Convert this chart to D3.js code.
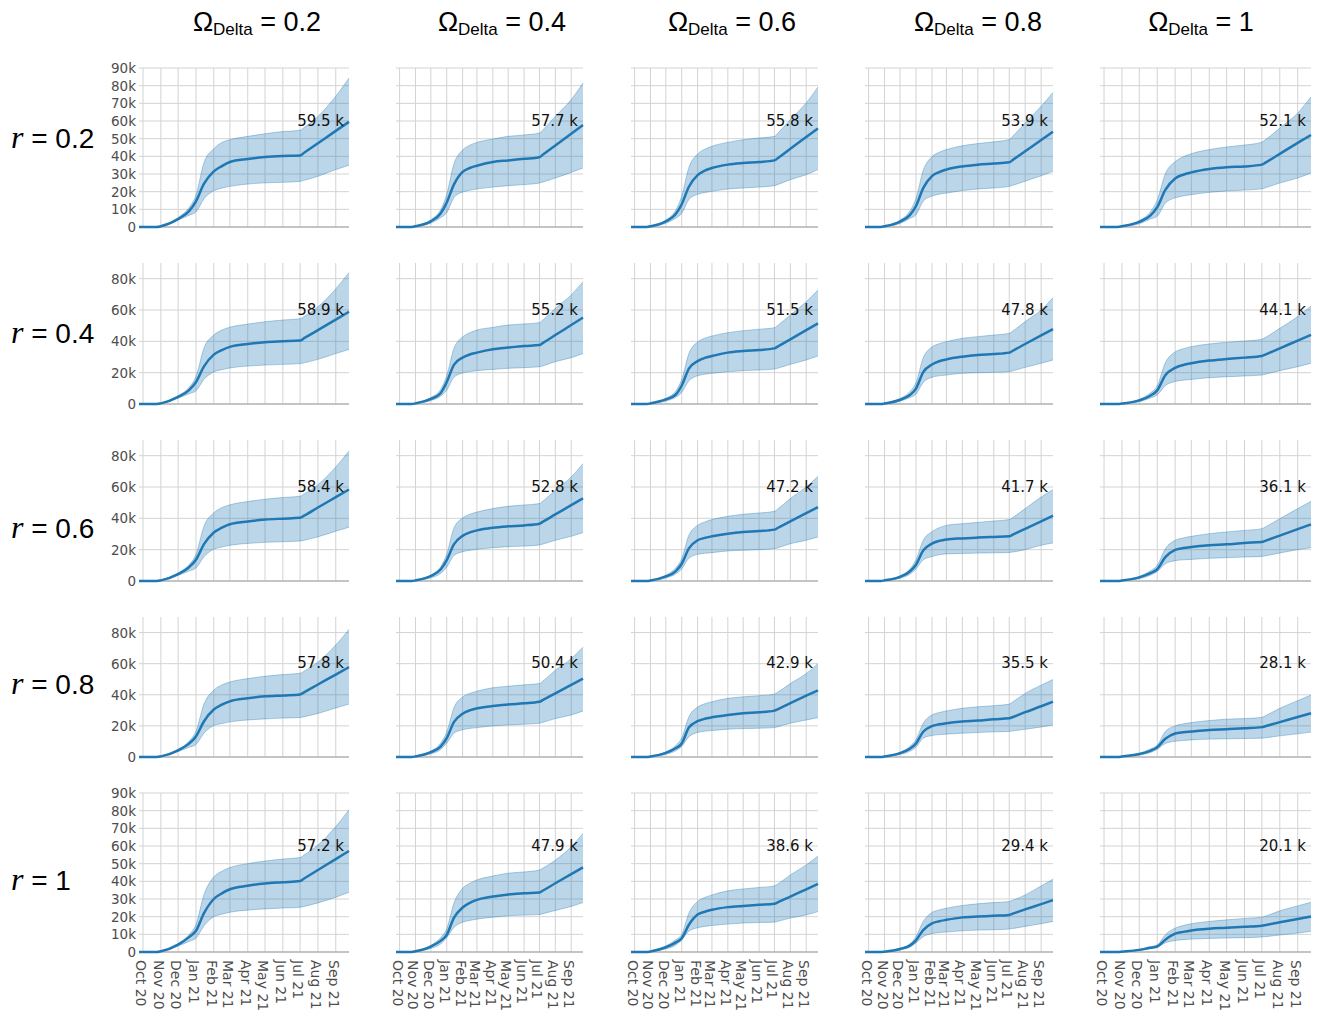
<!DOCTYPE html>
<html>
<head>
<meta charset="utf-8">
<script src="https://cdn.jsdelivr.net/npm/d3@7"></script>
<style>
  body { margin: 0; background: #fff; }
</style>
</head>
<body>
<svg id="chart" width="1322" height="1016"></svg>
<script>
// knot dates shared by every panel
const dates = ["2020-09-24", "2020-10-25", "2020-11-01", "2020-12-01", "2020-12-20", "2021-01-01",
  "2021-01-15", "2021-02-01", "2021-02-15", "2021-03-01", "2021-04-01", "2021-05-01",
  "2021-06-01", "2021-07-01", "2021-07-08", "2021-08-01", "2021-09-01", "2021-09-24"];

const omegaValues = ["0.2", "0.4", "0.6", "0.8", "1"];
const rValues = ["0.2", "0.4", "0.6", "0.8", "1"];

// cumulative values in thousands, [row r][column Omega][knot]
const medianK = [
  [ // r = 0.2
    [0, 0, 0.4, 4.5, 9, 14.5, 24.5, 31.5, 34.5, 36.8, 38.5, 39.6, 40.2, 40.5, 42, 47.4, 54.4, 59.5],
    [0, 0, 0.4, 3.2, 7.6, 13.9, 24, 31.2, 33.4, 34.7, 36.8, 37.7, 38.6, 39.5, 41, 46.1, 52.8, 57.7],
    [0, 0, 0.4, 3.2, 7.2, 12.9, 22.8, 29.4, 31.9, 33.4, 35.3, 36.2, 36.8, 37.7, 39.1, 44.3, 50.9, 55.8],
    [0, 0, 0.4, 3.1, 6.7, 11.9, 22, 28.8, 31.1, 32.5, 34.3, 35.3, 35.9, 36.6, 38, 42.9, 49.2, 53.9],
    [0, 0, 0.4, 2.9, 6.4, 11.2, 21, 27.5, 29.6, 30.9, 32.8, 33.8, 34.3, 35.3, 36.6, 41.4, 47.6, 52.1]
  ],
  [ // r = 0.4
    [0, 0, 0.4, 4.5, 8.9, 14, 24, 31.5, 34.4, 36.5, 38.3, 39.4, 40, 40.5, 42, 47.2, 53.9, 58.9],
    [0, 0, 0.4, 3.2, 6.9, 14, 25, 29.6, 31.6, 32.8, 34.9, 36, 37, 37.6, 39, 44, 50.4, 55.2],
    [0, 0, 0.4, 2.9, 5.9, 11.8, 22.6, 27.4, 29.4, 30.6, 32.8, 33.8, 34.5, 35.5, 36.8, 41.3, 47.2, 51.5],
    [0, 0, 0.3, 2.7, 5.7, 9.8, 20.4, 25.2, 27.3, 28.5, 30.2, 31.3, 31.9, 32.8, 34, 38.3, 43.8, 47.8],
    [0, 0, 0.3, 2.3, 5.3, 8.7, 18.4, 23.1, 24.9, 26, 27.7, 28.7, 29.6, 30.6, 31.7, 35.5, 40.5, 44.1]
  ],
  [ // r = 0.6
    [0, 0, 0.4, 4.4, 8.8, 13.6, 23.5, 31, 34, 36.2, 38, 39.2, 39.8, 40.3, 41.7, 46.9, 53.5, 58.4],
    [0, 0, 0.4, 3.2, 7.3, 13.3, 23.4, 28.8, 31, 32.3, 34, 34.9, 35.5, 36.6, 37.9, 42.5, 48.4, 52.8],
    [0, 0, 0.3, 2.9, 6.2, 11, 20.8, 26, 27.5, 28.5, 30.2, 31.3, 31.9, 32.8, 34, 38.1, 43.3, 47.2],
    [0, 0, 0.4, 2.6, 6.1, 10.4, 19.5, 23.9, 25.6, 26.5, 27.2, 27.7, 28.1, 28.5, 29.6, 33.3, 38.1, 41.7],
    [0, 0, 0.3, 2.3, 5, 7.5, 15.2, 19.9, 21, 21.7, 22.8, 23.4, 24.3, 24.9, 25.8, 29, 33.1, 36.1]
  ],
  [ // r = 0.8
    [0, 0, 0.4, 4.3, 8.6, 13.2, 23, 30.5, 33.6, 35.8, 37.8, 39, 39.6, 40.2, 41.6, 46.6, 53, 57.8],
    [0, 0, 0.4, 3.1, 6.7, 12.1, 22.4, 27.8, 30, 31.3, 32.8, 33.8, 34.5, 35.5, 36.7, 40.9, 46.4, 50.4],
    [0, 0, 0.3, 2.6, 5.6, 8.7, 19, 23, 24.6, 25.5, 27, 28.1, 28.7, 29.8, 30.8, 34.6, 39.4, 42.9],
    [0, 0, 0.3, 2.5, 5.3, 8.7, 16.2, 19.9, 21, 21.7, 22.8, 23.4, 24.3, 24.9, 25.7, 28.8, 32.6, 35.5],
    [0, 0, 0.3, 1.9, 4, 6.3, 11.7, 15.1, 15.9, 16.4, 17.4, 17.9, 18.5, 19.2, 19.9, 22.4, 25.7, 28.1]
  ],
  [ // r = 1
    [0, 0, 0.4, 4.2, 8.4, 12, 22, 30, 33.2, 35.5, 37.5, 38.8, 39.5, 40.2, 41.6, 46.4, 52.6, 57.2],
    [0, 0, 0.4, 3.1, 6.3, 9.7, 19.3, 25.2, 27.8, 29.5, 31.4, 32.5, 33.3, 33.7, 34.8, 38.9, 44.1, 47.9],
    [0, 0, 0.3, 2.7, 5.3, 7.7, 15.4, 21.2, 22.8, 23.9, 25.4, 26.1, 26.7, 27.3, 28.2, 31.4, 35.5, 38.6],
    [0, 0, 0.2, 1.7, 3.6, 6.6, 12.4, 16.2, 17.4, 18.2, 19.6, 20.1, 20.5, 21, 21.7, 24.1, 27.1, 29.4],
    [0, 0, 0.2, 1.2, 2.4, 3.1, 7, 10.4, 11.4, 12.2, 13.2, 13.7, 14.3, 14.9, 15.3, 16.8, 18.7, 20.1]
  ]
];

const lowerK = [
  [
    [0, 0, 0.2, 3.8, 6.6, 8.5, 16, 20.5, 22, 23, 24.3, 25, 25.3, 25.8, 26.4, 28.7, 32.5, 35],
    [0, 0, 0.2, 2.2, 5.3, 8.1, 16.6, 19.8, 20.8, 21.5, 22.6, 23.4, 24, 24.9, 25.5, 27.7, 30.9, 33.4],
    [0, 0, 0.2, 2.1, 5, 7.7, 15.6, 18.5, 19.5, 20.2, 21.5, 22.1, 22.6, 23.4, 24.1, 26.8, 29.6, 32.5],
    [0, 0, 0.2, 2, 4.8, 6.9, 14.6, 17.5, 18.6, 19.2, 20.6, 21.5, 22.1, 23, 23.6, 25.9, 29, 31.5],
    [0, 0, 0.2, 1.8, 4.5, 6.1, 13.5, 16.5, 17.6, 18.3, 19.6, 20.4, 20.9, 21.6, 22.3, 24.9, 27.7, 30.6]
  ],
  [
    [0, 0, 0.2, 3.7, 6.5, 8.4, 15.8, 20.5, 21.9, 23, 24.2, 24.9, 25.3, 25.8, 26.3, 28.5, 32.2, 34.8],
    [0, 0, 0.2, 2.2, 5, 8.8, 17, 19.8, 20.7, 21.3, 22.1, 22.8, 23.2, 23.8, 24.4, 27, 29.6, 32.3],
    [0, 0, 0.2, 1.9, 4.3, 7.4, 14.8, 18, 19, 19.6, 20.6, 21.3, 21.7, 22.3, 22.9, 25.3, 28.1, 30.6],
    [0, 0, 0.2, 1.8, 4.1, 6.3, 13.8, 17.1, 18, 18.5, 19.6, 20, 20.2, 20.6, 21.2, 23.4, 26, 28.1],
    [0, 0, 0.2, 1.5, 3.8, 5.8, 11.7, 14.4, 15.2, 15.7, 16.8, 17.4, 17.9, 18.5, 19.1, 21.3, 23.8, 26]
  ],
  [
    [0, 0, 0.2, 3.6, 6.4, 8.3, 15.5, 20.3, 21.7, 22.8, 24, 24.7, 25.1, 25.5, 26, 28.2, 31.8, 34.3],
    [0, 0, 0.2, 2, 4.8, 8.8, 16.2, 18.7, 19.6, 20.2, 21.3, 21.9, 22.3, 23, 23.6, 26, 28.5, 30.9],
    [0, 0, 0.2, 1.9, 4.4, 7.7, 14.5, 17, 17.7, 18.1, 19.2, 19.6, 20, 20.6, 21.2, 23.8, 26, 28.1],
    [0, 0, 0.2, 1.7, 4.3, 7.6, 13.5, 15.6, 16.8, 17.3, 17.6, 17.8, 18, 18.2, 18.5, 20, 22.8, 24.3],
    [0, 0, 0.2, 1.5, 3.7, 6.1, 11, 13, 13.5, 13.8, 14.5, 14.9, 15.3, 15.7, 16.1, 17.9, 20, 21.3]
  ],
  [
    [0, 0, 0.2, 3.5, 6.2, 8.1, 15.3, 20.2, 21.5, 22.6, 23.8, 24.5, 25, 25.4, 25.9, 28, 31.5, 34],
    [0, 0, 0.2, 2, 4.8, 8.8, 15.3, 17.5, 18.4, 18.9, 20, 20.6, 21.1, 21.7, 22.3, 24.7, 27, 29.6],
    [0, 0, 0.2, 1.7, 4, 6.8, 13, 15.8, 16.6, 17, 17.9, 18.3, 18.5, 18.9, 19.5, 21.7, 23.8, 25.3],
    [0, 0, 0.2, 1.6, 3.7, 6.3, 12.1, 13.8, 14.4, 14.7, 15.3, 15.7, 16.2, 16.4, 16.8, 17.8, 19.3, 20.6],
    [0, 0, 0.2, 1.2, 2.9, 4.9, 8.7, 10.1, 10.6, 11, 11.5, 11.7, 11.9, 12.1, 12.4, 13.6, 14.9, 16]
  ],
  [
    [0, 0, 0.2, 3.4, 6, 7.8, 14.8, 20, 21.4, 22.5, 23.7, 24.4, 24.9, 25.3, 25.8, 27.8, 31, 33.8],
    [0, 0, 0.2, 2, 4.5, 8.1, 13.9, 16.9, 17.9, 18.6, 19.7, 20.5, 20.9, 21.2, 21.7, 23.5, 25.8, 28],
    [0, 0, 0.2, 1.8, 3.8, 6.9, 11.8, 13.7, 14.5, 15, 15.8, 16.4, 16.7, 16.9, 17.4, 19.2, 21, 22.9],
    [0, 0, 0.1, 1.1, 2.7, 5.1, 8.7, 10.4, 11, 11.3, 12, 12.4, 12.6, 13, 13.3, 14.5, 16, 17.3],
    [0, 0, 0.1, 0.8, 1.8, 2.8, 5.2, 6.5, 7, 7.3, 7.7, 7.9, 8.1, 8.5, 8.7, 9.6, 10.7, 11.7]
  ]
];

const upperK = [
  [
    [0, 0, 0.6, 5.4, 11, 18, 36.5, 44.3, 47.8, 49.4, 51.3, 52.8, 54, 54.7, 56.3, 62.6, 74, 84.3],
    [0, 0, 0.5, 4.1, 9.7, 18.4, 35.6, 43.6, 46.3, 47.9, 49.8, 51.3, 52.1, 53.2, 55.1, 62.6, 72.1, 81.5],
    [0, 0, 0.5, 3.9, 9.3, 17.4, 33.7, 41.3, 44, 45.7, 47.9, 49.4, 50.4, 51.3, 53.2, 60.8, 70.2, 79.3],
    [0, 0, 0.5, 3.8, 9, 16.2, 32, 39.8, 42.3, 43.8, 46, 47.2, 48.2, 49.5, 51.4, 58.9, 68.3, 76.2],
    [0, 0, 0.5, 3.7, 8.5, 15.2, 30.1, 37, 39.8, 41.5, 43.8, 45.3, 46.4, 48, 49.6, 56, 64.5, 73.6]
  ],
  [
    [0, 0, 0.6, 5.3, 10.6, 17.5, 35.8, 44, 47.2, 49, 51, 52.5, 53.6, 54.4, 55.9, 62, 73.5, 83.9],
    [0, 0, 0.5, 4.1, 9.2, 18, 35.4, 42.8, 45.5, 47.2, 48.9, 50.4, 51.1, 51.9, 53.7, 61.1, 69.6, 78.1],
    [0, 0, 0.5, 3.7, 8.1, 15.6, 32.2, 39.6, 42, 43.4, 45.5, 46.8, 47.7, 48.7, 50.3, 56.8, 65.3, 72.8],
    [0, 0, 0.5, 3.4, 7.8, 13.6, 29.4, 36.4, 38.5, 39.8, 41.9, 43, 44, 45.1, 46.6, 52.6, 60, 67.9],
    [0, 0, 0.4, 3, 7, 11.6, 26.3, 33.2, 35.3, 36.6, 38.3, 39.4, 40.2, 41.3, 42.7, 48.3, 55.8, 62.6]
  ],
  [
    [0, 0, 0.6, 5.2, 10.3, 17, 35, 43.5, 46.8, 48.6, 50.7, 52.2, 53.3, 54.1, 55.6, 61.5, 72.8, 83],
    [0, 0, 0.5, 3.9, 9, 17.1, 33.7, 40.2, 42.6, 44, 46.2, 47.7, 48.5, 49.4, 51.1, 57.9, 66.4, 74.9],
    [0, 0, 0.5, 3.7, 8.3, 14.3, 29.2, 35.5, 37.7, 39.2, 41.3, 42.6, 43.4, 44.5, 46.1, 52.6, 60, 66.8],
    [0, 0, 0.5, 3.3, 7.6, 13.5, 26, 31.5, 34, 35.5, 36.6, 37.4, 38.3, 39.2, 40.6, 46.2, 53.6, 58.3],
    [0, 0, 0.4, 2.9, 6.5, 10, 20.6, 26, 27.5, 28.5, 30.2, 31.3, 32.3, 33.4, 34.7, 39.8, 46.2, 50.9]
  ],
  [
    [0, 0, 0.6, 5, 10.2, 16.5, 34, 43, 46.3, 48.2, 50.4, 51.9, 53, 53.8, 55.2, 61, 72, 82],
    [0, 0, 0.5, 3.8, 8.9, 16, 31.6, 38.6, 40.9, 42.3, 44.5, 45.5, 46.4, 47.2, 48.9, 55.8, 63.2, 70.6],
    [0, 0, 0.5, 3.3, 7.3, 12.3, 25.8, 32.1, 34.2, 35.5, 37.7, 38.7, 39.4, 40.4, 41.8, 47.2, 53.6, 60],
    [0, 0, 0.4, 3.1, 6.8, 11.2, 21.7, 27, 28.6, 29.6, 31.3, 32.3, 33, 34, 35.4, 40.9, 46.2, 49.8],
    [0, 0, 0.3, 2.4, 5.2, 7.6, 16.4, 20, 21.3, 22.1, 23.4, 24.3, 24.7, 25.5, 26.7, 31.3, 36.2, 39.8]
  ],
  [
    [0, 0, 0.6, 4.8, 9.8, 15.5, 32.5, 42.5, 45.7, 47.8, 50, 51.5, 52.6, 53.5, 54.9, 60.5, 71, 80.5],
    [0, 0, 0.5, 3.8, 8.1, 13.1, 27.6, 36.1, 38.9, 40.8, 43, 44.6, 45.3, 46.4, 47.5, 52, 59.6, 67.1],
    [0, 0, 0.5, 3.4, 6.9, 9.9, 22, 28.6, 30.8, 32.3, 34.6, 35.7, 36.5, 37.4, 38.6, 43.6, 49.3, 54.3],
    [0, 0, 0.3, 2.2, 4.6, 8.8, 17.3, 22.4, 23.8, 24.8, 26.3, 27.3, 28, 28.6, 29.3, 32.3, 37.4, 41.2],
    [0, 0, 0.2, 1.4, 3, 4, 9.8, 13.5, 15, 16, 17.3, 18.2, 19, 19.7, 20.4, 23.3, 26.1, 28.2]
  ]
];

// layout of the grid of panels (pixels)
const colX = [[139, 349], [396, 583], [631, 818], [865, 1053], [1100, 1311]];
const rowY = [[68, 227], [263, 404], [440, 581], [617, 757], [793, 952]];
const rowTickStep = [10, 20, 20, 20, 10];
const titleX = [257, 502, 732, 978, 1201];
const rowBaseline = [148, 343, 538, 694, 890];

const blue = "#1f77b4";
const parse = d3.timeParse("%Y-%m-%d");
const knots = dates.map(parse);
const monthTicks = d3.timeMonth.range(new Date(2020, 9, 1), new Date(2021, 8, 2));
const fmtMonth = d3.timeFormat("%b %y");

const svg = d3.select("#chart");

// column titles
omegaValues.forEach(function (om, j) {
  const t = svg.append("text")
    .attr("x", titleX[j]).attr("y", 31)
    .attr("text-anchor", "middle")
    .style("font-family", "'Liberation Sans', Arial, sans-serif")
    .style("font-size", "27px")
    .attr("fill", "#000");
  t.append("tspan").text("\u03a9");
  t.append("tspan").attr("dy", 4).style("font-size", "17px").text("Delta");
  t.append("tspan").attr("dy", -4).text(" = " + om);
});

// row labels
rValues.forEach(function (r, i) {
  const t = svg.append("text")
    .attr("x", 11).attr("y", rowBaseline[i])
    .style("font-family", "'Liberation Sans', Arial, sans-serif")
    .style("font-size", "28px")
    .attr("fill", "#000");
  t.append("tspan")
    .style("font-family", "'Liberation Serif', 'DejaVu Serif', serif")
    .style("font-style", "italic")
    .style("font-size", "32px")
    .text("r");
  t.append("tspan").text(" = " + r);
});

rowY.forEach(function (ry, i) {
  colX.forEach(function (cx, j) {
    const x = d3.scaleTime().domain([knots[0], knots[knots.length - 1]]).range(cx);
    const y = d3.scaleLinear().domain([0, 90]).range([ry[1], ry[0]]);
    const yTicks = d3.range(0, 90.1, rowTickStep[i]);

    const g = svg.append("g");

    // grid
    g.selectAll("line.vg").data(monthTicks).join("line")
      .attr("x1", d => x(d)).attr("x2", d => x(d))
      .attr("y1", y(90)).attr("y2", y(0))
      .attr("stroke", "#d3d3d3").attr("stroke-width", 1);
    g.selectAll("line.hg").data(yTicks.filter(d => d > 0)).join("line")
      .attr("x1", cx[0]).attr("x2", cx[1])
      .attr("y1", d => y(d)).attr("y2", d => y(d))
      .attr("stroke", "#d3d3d3").attr("stroke-width", 1);

    const pts = knots.map(function (d, k) {
      return { date: d, med: medianK[i][j][k], lo: lowerK[i][j][k], hi: upperK[i][j][k] };
    });

    const area = d3.area().curve(d3.curveMonotoneX)
      .x(d => x(d.date)).y0(d => y(d.lo)).y1(d => y(d.hi));
    g.append("path").datum(pts).attr("d", area)
      .attr("fill", blue).attr("fill-opacity", 0.3);

    ["lo", "hi"].forEach(function (key) {
      g.append("path").datum(pts)
        .attr("d", d3.line().curve(d3.curveMonotoneX).x(d => x(d.date)).y(d => y(d[key])))
        .attr("fill", "none").attr("stroke", blue)
        .attr("stroke-opacity", 0.35).attr("stroke-width", 1);
    });

    // zero axis line
    g.append("line")
      .attr("x1", cx[0]).attr("x2", cx[1])
      .attr("y1", y(0)).attr("y2", y(0))
      .attr("stroke", "#b0b0b0").attr("stroke-width", 1.5);

    g.append("path").datum(pts)
      .attr("d", d3.line().curve(d3.curveMonotoneX).x(d => x(d.date)).y(d => y(d.med)))
      .attr("fill", "none").attr("stroke", blue).attr("stroke-width", 2.5);

    // final value annotation
    const last = medianK[i][j][medianK[i][j].length - 1];
    g.append("text")
      .attr("x", cx[1] - 5).attr("y", y(57))
      .attr("text-anchor", "end")
      .style("font-family", "'DejaVu Sans', sans-serif")
      .style("font-size", "15px")
      .attr("fill", "#111")
      .text(last.toFixed(1) + " k");

    // y tick labels on first column
    if (j === 0) {
      g.selectAll("text.yt").data(yTicks).join("text")
        .attr("x", cx[0] - 3).attr("y", d => y(d))
        .attr("text-anchor", "end").attr("dominant-baseline", "central")
        .style("font-family", "'DejaVu Sans', sans-serif")
        .style("font-size", "13.5px")
        .attr("fill", "#4d4d4d")
        .text(d => d === 0 ? "0" : d + "k");
    }

    // x tick labels on last row
    if (i === rowY.length - 1) {
      g.selectAll("text.xt").data(monthTicks).join("text")
        .attr("transform", d => `translate(${x(d) - 2},${y(0) + 8}) rotate(90)`)
        .attr("text-anchor", "start").attr("dominant-baseline", "central")
        .style("font-family", "'DejaVu Sans', sans-serif")
        .style("font-size", "14px")
        .attr("fill", "#4d4d4d")
        .text(d => fmtMonth(d));
    }
  });
});
</script>
</body>
</html>
